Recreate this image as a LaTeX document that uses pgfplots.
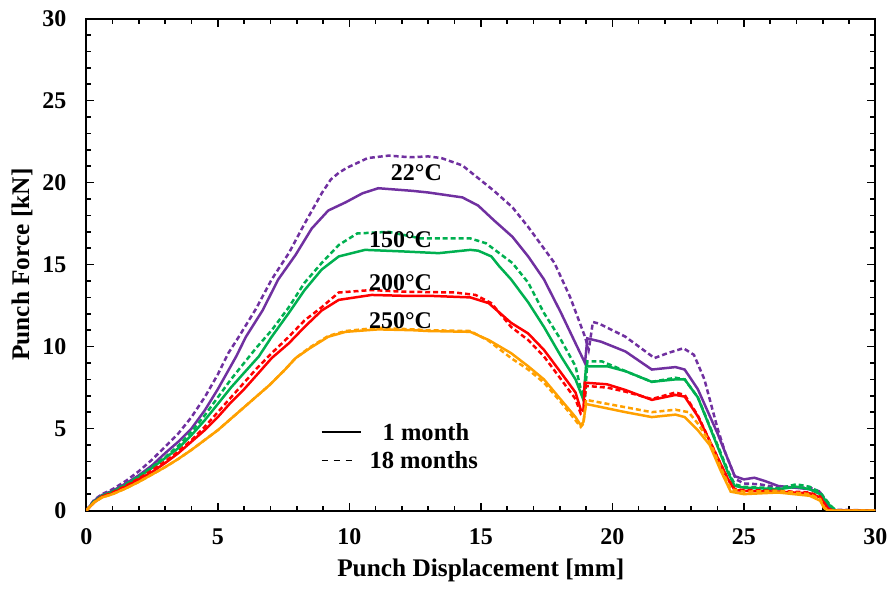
\documentclass[border=0pt]{standalone}
\usepackage{fontspec}
\setmainfont{Liberation Serif}
\usepackage{pgfplots}
\pgfplotsset{compat=1.18}
\definecolor{cpurple}{RGB}{112,48,160}
\definecolor{cgreen}{RGB}{0,176,80}
\definecolor{cred}{RGB}{255,0,0}
\definecolor{corange}{RGB}{255,160,0}
\begin{document}
\begin{tikzpicture}
\begin{axis}[
  name=ax,
  scale only axis,
  width=395.5pt, height=246.5pt,
  xmin=0, xmax=30, ymin=0, ymax=30,
  xtick={0,5,...,30}, ytick={0,5,...,30},
  minor x tick num=4, minor y tick num=4,
  tick align=inside,
  major tick length=4pt, minor tick length=2.5pt,
  axis line style={line width=1pt},
  every tick/.style={black, line width=0.8pt},
  /pgf/number format/assume math mode=true,
  ticklabel style={font=\fontsize{12}{14}\selectfont\bfseries},
  yticklabel style={xshift=-6.5pt},
  xticklabel style={yshift=-5.5pt},
  xlabel={Punch Displacement [mm]},
  ylabel={Punch Force [kN]},
  label style={font=\fontsize{12.7}{15}\selectfont\bfseries},
  xlabel style={yshift=-0.5pt},
  ylabel style={yshift=-2pt},
  every axis plot/.append style={line width=1.25pt},
]
% 22C 18 months
\addplot[cpurple, dash pattern=on 2.5pt off 1.5pt] coordinates {
(0,0)(0.3,0.65)(0.6,1.0)(1,1.3)(1.5,1.8)(2,2.4)(2.5,3.1)(3,3.9)(3.5,4.7)(4,5.7)(4.5,6.9)(5,8.3)(5.4,9.6)(5.8,10.6)(6.45,12.3)(7.05,14.1)(7.7,15.7)(8.3,17.5)(8.95,19.35)(9.3,20.2)(9.6,20.6)(9.9,20.9)(10.7,21.5)(11.5,21.65)(12.3,21.55)(13.0,21.6)(13.5,21.5)(14.3,21.05)(15.5,19.5)(16.2,18.5)(16.8,17.3)(17.8,15.1)(18.4,13.0)(18.96,10.6)(19.1,9.8)(19.15,10.3)(19.26,11.5)(19.5,11.4)(20.5,10.6)(21.6,9.3)(22.1,9.6)(22.7,9.9)(23.1,9.5)(23.5,8.0)(24.0,5.0)(24.3,3.5)(24.7,1.9)(25.0,1.65)(25.6,1.6)(26.3,1.4)(27.5,1.4)(27.9,1.15)(28.2,0.35)(28.4,0.05)(30,0)};
% 22C 1 month
\addplot[cpurple] coordinates {
(0,0)(0.3,0.6)(0.6,0.95)(1,1.2)(1.5,1.65)(2,2.15)(2.5,2.75)(3,3.5)(3.5,4.2)(4,5.0)(4.5,6.1)(5,7.4)(5.7,9.4)(6.07,10.6)(6.7,12.2)(7.3,14.1)(7.96,15.6)(8.57,17.2)(9.2,18.3)(9.86,18.8)(10.5,19.35)(11.1,19.66)(12.4,19.5)(13.0,19.4)(14.3,19.1)(14.9,18.6)(15.5,17.7)(16.2,16.7)(16.8,15.5)(17.4,14.1)(18.05,12.05)(18.6,10.2)(18.96,9.0)(19.05,10.5)(19.57,10.3)(20.5,9.7)(21.5,8.6)(22.4,8.75)(22.75,8.6)(23.25,7.4)(24.0,4.7)(24.4,3.1)(24.65,2.1)(25.0,1.9)(25.4,2.0)(25.8,1.8)(26.3,1.5)(27.5,1.3)(27.9,1.1)(28.2,0.25)(28.4,0)(30,0)};
% 150C 18 months
\addplot[cgreen, dash pattern=on 2.5pt off 1.5pt] coordinates {
(0,0)(0.3,0.55)(0.6,0.9)(1,1.15)(1.5,1.6)(2,2.1)(2.5,2.65)(3,3.25)(3.5,3.95)(4,4.8)(4.5,5.8)(5,6.9)(5.5,8.0)(6.45,9.9)(7.05,11.0)(7.7,12.4)(8.3,13.9)(8.95,15.1)(9.6,16.2)(10.3,16.9)(11.5,17.0)(12.7,16.6)(13.8,16.6)(14.6,16.6)(15.2,16.3)(15.7,15.7)(16.2,15.1)(16.8,13.9)(17.4,12.05)(18.05,10.4)(18.6,8.8)(18.8,7.4)(18.96,6.9)(19.05,9.1)(19.6,9.1)(20.5,8.5)(21.5,7.85)(22.4,8.1)(22.75,8.0)(23.25,6.9)(24.1,3.6)(24.4,2.4)(24.65,1.6)(25.0,1.45)(26.3,1.35)(27.0,1.6)(27.5,1.45)(27.9,1.1)(28.3,0.3)(28.5,0)(30,0)};
% 150C 1 month
\addplot[cgreen] coordinates {
(0,0)(0.3,0.55)(0.6,0.9)(1,1.15)(1.5,1.55)(2,2.05)(2.5,2.6)(3,3.2)(3.5,3.8)(4,4.6)(4.5,5.5)(5,6.5)(5.5,7.5)(6.0,8.4)(6.56,9.4)(7.05,10.6)(7.7,12.05)(8.3,13.45)(8.95,14.7)(9.6,15.5)(10.6,15.9)(12.1,15.8)(13.4,15.7)(14.6,15.9)(14.9,15.85)(15.4,15.5)(15.7,14.9)(16.15,14.1)(16.8,12.7)(17.4,11.2)(18.05,9.4)(18.6,8.0)(18.9,6.75)(19.0,8.8)(19.8,8.8)(20.5,8.5)(21.5,7.85)(22.4,8.0)(22.75,8.0)(23.25,6.9)(24.1,3.5)(24.4,2.3)(24.65,1.5)(25.0,1.4)(26.3,1.3)(27.0,1.45)(27.5,1.3)(27.9,1.0)(28.3,0.25)(28.5,0)(30,0)};
% 200C 18 months
\addplot[cred, dash pattern=on 2.5pt off 1.5pt] coordinates {
(0,0)(0.3,0.5)(0.6,0.85)(1,1.1)(1.5,1.5)(2,1.95)(2.5,2.45)(3,3.0)(3.5,3.6)(4,4.3)(4.5,5.1)(5,6.0)(5.5,6.9)(6,7.8)(6.5,8.7)(7.05,9.6)(7.7,10.6)(8.3,11.6)(8.95,12.4)(9.6,13.3)(10.85,13.45)(12,13.35)(14.0,13.3)(14.8,13.15)(15.4,12.65)(16.15,11.2)(16.8,10.4)(17.4,9.4)(18.05,8.0)(18.6,6.8)(18.8,5.9)(18.9,6.0)(19.0,7.6)(19.8,7.5)(20.5,7.25)(21.5,6.8)(22.4,7.2)(22.75,7.05)(23.25,5.8)(24.1,2.9)(24.4,1.9)(24.65,1.3)(25.0,1.25)(26.3,1.2)(27.5,1.1)(27.9,0.85)(28.2,0.1)(28.4,0)(30,0)};
% 200C 1 month
\addplot[cred] coordinates {
(0,0)(0.3,0.5)(0.6,0.85)(1,1.05)(1.5,1.45)(2,1.9)(2.5,2.35)(3,2.9)(3.5,3.5)(4,4.2)(4.5,4.9)(5,5.7)(5.5,6.6)(6,7.4)(6.5,8.3)(7.05,9.3)(7.7,10.2)(8.3,11.2)(8.95,12.2)(9.6,12.85)(10.85,13.15)(12,13.1)(13.0,13.1)(14.6,13.0)(15.3,12.65)(16.15,11.45)(16.8,10.8)(17.4,9.8)(18.05,8.4)(18.6,7.2)(18.8,6.15)(18.9,6.1)(18.95,7.8)(19.8,7.7)(20.5,7.35)(21.5,6.75)(22.4,7.05)(22.75,6.95)(23.25,5.75)(24.1,2.9)(24.4,1.9)(24.65,1.25)(25.0,1.2)(26.3,1.15)(27.5,1.05)(27.9,0.8)(28.2,0.1)(28.4,0)(30,0)};
% 250C 18 months
\addplot[corange, dash pattern=on 2.5pt off 1.5pt] coordinates {
(0,0)(0.3,0.5)(0.6,0.8)(1,1.0)(1.5,1.35)(2,1.75)(2.5,2.2)(3,2.65)(3.5,3.15)(4,3.7)(4.5,4.3)(5,4.9)(5.5,5.6)(6,6.3)(6.5,7.0)(7,7.7)(7.5,8.5)(7.96,9.3)(8.5,9.95)(9.2,10.65)(9.86,10.95)(11.1,11.15)(12.4,11.05)(13,11.0)(14.6,10.95)(15.3,10.35)(16.15,9.3)(16.8,8.6)(17.4,7.8)(18.05,6.6)(18.6,5.5)(18.8,5.1)(18.9,5.3)(19.0,6.75)(20.5,6.3)(21.5,6.0)(22.4,6.15)(22.9,6.0)(23.25,5.3)(23.7,4.2)(24.1,2.7)(24.5,1.3)(25.0,1.15)(26.3,1.2)(27.5,1.0)(27.9,0.7)(28.05,0.2)(28.2,0)(30,0)};
% 250C 1 month
\addplot[corange] coordinates {
(0,0)(0.3,0.5)(0.6,0.8)(1,1.0)(1.5,1.35)(2,1.75)(2.5,2.2)(3,2.65)(3.5,3.15)(4,3.7)(4.5,4.3)(5,4.9)(5.5,5.6)(6,6.3)(6.5,7.0)(7,7.7)(7.5,8.5)(7.96,9.3)(8.5,9.9)(9.2,10.6)(9.86,10.9)(11.1,11.05)(12.4,11.0)(13,10.95)(14.6,10.9)(15.3,10.4)(16.15,9.6)(16.8,8.8)(17.4,8.0)(18.05,6.75)(18.6,5.7)(18.8,5.2)(18.9,5.4)(19.0,6.5)(20.5,6.0)(21.5,5.7)(22.4,5.85)(22.75,5.7)(23.25,4.9)(23.7,4.0)(24.1,2.5)(24.5,1.15)(25.0,1.0)(26.3,1.1)(27.5,0.9)(27.9,0.6)(28.05,0.15)(28.2,0)(30,0)};
% legend samples (black lines)
\addplot[black, line width=0.9pt, solid] coordinates {(8.95,4.8)(10.45,4.8)};
\addplot[black, line width=0.9pt, dash pattern=on 3pt off 3pt] coordinates {(8.95,3.05)(10.25,3.05)};
\node[font=\fontsize{12.3}{14}\selectfont\bfseries, anchor=west] at (axis cs:11.0,4.8) {1 month};
\node[font=\fontsize{12.3}{14}\selectfont\bfseries, anchor=west] at (axis cs:10.5,3.05) {18 months};
\node[font=\fontsize{12}{14}\selectfont\bfseries] at (axis cs:12.55,20.6) {22°C};
\node[font=\fontsize{12}{14}\selectfont\bfseries] at (axis cs:11.95,16.5) {150°C};
\node[font=\fontsize{12}{14}\selectfont\bfseries] at (axis cs:11.95,13.9) {200°C};
\node[font=\fontsize{12}{14}\selectfont\bfseries] at (axis cs:11.95,11.6) {250°C};
\end{axis}
\path (ax.outer north) ++(0,2pt);
\path (ax.outer west) ++(-2.5pt,0);
\end{tikzpicture}
\end{document}
